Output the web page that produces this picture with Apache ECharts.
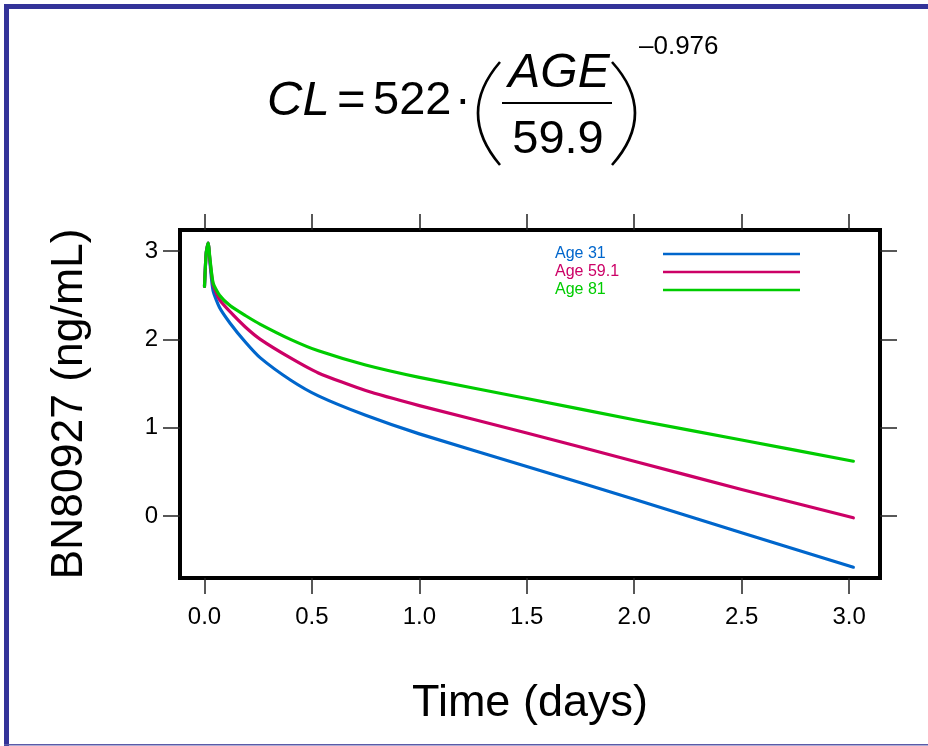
<!DOCTYPE html>
<html>
<head>
<meta charset="utf-8">
<script src="https://cdn.jsdelivr.net/npm/echarts@6/dist/echarts.min.js"></script>
<style>
html,body{margin:0;padding:0;background:#fff;}
#chart{width:928px;height:746px;}
</style>
</head>
<body>
<div id="chart"></div>
<script>
// ---- data ----
var timeDays = [0, 0.008, 0.017, 0.026, 0.04, 0.07, 0.12, 0.19, 0.26, 0.4, 0.53, 0.75, 1.0, 1.5, 2.0, 2.5, 3.02];
var age31   = [2.6, 2.98, 3.09, 2.85, 2.55, 2.36, 2.18, 1.97, 1.79, 1.54, 1.36, 1.14, 0.93, 0.56, 0.19, -0.19, -0.58];
var age59   = [2.6, 2.98, 3.09, 2.88, 2.62, 2.45, 2.31, 2.14, 2.00, 1.79, 1.62, 1.42, 1.25, 0.94, 0.62, 0.30, -0.02];
var age81   = [2.6, 2.98, 3.09, 2.90, 2.64, 2.50, 2.38, 2.27, 2.17, 2.00, 1.87, 1.71, 1.57, 1.33, 1.09, 0.86, 0.62];
var seriesNames = ['Age 31', 'Age 59.1', 'Age 81'];
var seriesColors = ['#0066CC', '#CC0066', '#00CC00'];
var xTicks = [0, 0.5, 1.0, 1.5, 2.0, 2.5, 3.0];
var yTicks = [0, 1, 2, 3];
var xTitle = 'Time (days)';
var yTitle = 'BN80927 (ng/mL)';

function pairs(ys){ return timeDays.map(function(t,i){ return [t, ys[i]]; }); }
var allValues = [age31, age59, age81];

var FONT = 'Liberation Sans, Arial, sans-serif';
var chart = echarts.init(document.getElementById('chart'), null, {renderer:'canvas'});

var series = allValues.map(function(v, i){
  return {
    name: seriesNames[i], type: 'line', data: pairs(v),
    showSymbol: false, symbol: 'none',
    smooth: 0.2,
    color: seriesColors[i],
    lineStyle: {width: 3.2, color: seriesColors[i], cap: 'round', join: 'round'},
    z: 3 + i, animation: false
  };
});

function txt(x, y, s, font, align){
  return {type: 'text', x: x, y: y, silent: true,
    style: {text: s, font: font, fill: '#000', align: align || 'left', verticalAlign: 'top'}};
}
var tickStyle = {color: '#222', width: 1.5};

var option = {
  animation: false,
  backgroundColor: '#ffffff',
  grid: {left: 180, top: 230, right: 48, bottom: 168, show: true, borderWidth: 4, borderColor: '#000', backgroundColor: 'transparent'},
  xAxis: [{
    type: 'value', min: -0.114, max: 3.144, position: 'bottom',
    axisLine: {show: false, onZero: false},
    splitLine: {show: false},
    axisTick: {show: true, inside: false, length: 16, customValues: xTicks, lineStyle: tickStyle},
    axisLabel: {show: true, customValues: xTicks, margin: 27, fontSize: 24, fontFamily: FONT, color: '#000',
      formatter: function(v){ return v.toFixed(1); }},
    name: xTitle, nameLocation: 'middle', nameGap: 103,
    nameTextStyle: {fontSize: 45, fontFamily: FONT, color: '#000'}
  }, {
    type: 'value', min: -0.114, max: 3.144, position: 'top',
    axisLine: {show: false, onZero: false}, splitLine: {show: false},
    axisTick: {show: true, inside: false, length: 16, customValues: xTicks, lineStyle: tickStyle},
    axisLabel: {show: false}
  }],
  yAxis: [{
    type: 'value', min: -0.702, max: 3.238, position: 'left',
    axisLine: {show: false, onZero: false}, splitLine: {show: false},
    axisTick: {show: true, inside: false, length: 17, customValues: yTicks, lineStyle: tickStyle},
    axisLabel: {show: true, customValues: yTicks, margin: 22, fontSize: 24, fontFamily: FONT, color: '#000',
      formatter: function(v){ return String(Math.round(v)); }},
    name: yTitle, nameLocation: 'middle', nameGap: 88, nameRotate: 90,
    nameTextStyle: {fontSize: 44.5, fontFamily: FONT, color: '#000'}
  }, {
    type: 'value', min: -0.702, max: 3.238, position: 'right',
    axisLine: {show: false, onZero: false}, splitLine: {show: false},
    axisTick: {show: true, inside: false, length: 17, customValues: yTicks, lineStyle: tickStyle},
    axisLabel: {show: false}
  }],
  legend: {
    show: true, orient: 'vertical', left: 555, top: 246, padding: 0,
    align: 'right', itemWidth: 137, itemHeight: 2.5, itemGap: 2, icon: 'rect',
    itemStyle: {borderWidth: 0},
    formatter: '{w|{name}}',
    textStyle: {fontSize: 16, fontFamily: FONT, rich: {w: {width: 103, align: 'left', fontSize: 16, fontFamily: FONT}}},
    data: seriesNames.map(function(n, i){ return {name: n, textStyle: {color: seriesColors[i]}}; })
  },
  series: series,
  graphic: [
    // page frame
    {type: 'rect', shape: {x: 4, y: 4, width: 924, height: 5}, style: {fill: '#333399'}, silent: true},
    {type: 'rect', shape: {x: 4, y: 4, width: 5, height: 742}, style: {fill: '#333399'}, silent: true},
    {type: 'rect', shape: {x: 4, y: 744, width: 924, height: 1.5}, style: {fill: '#5a5aa8'}, silent: true},
    // formula
    txt(267, 77, 'CL', 'italic 49px ' + FONT),
    txt(337, 77, '=', '49px ' + FONT),
    txt(373, 78, '522', '47px ' + FONT),
    txt(455, 78, '\u00b7', '47px ' + FONT),
    {type: 'bezierCurve', silent: true, shape: {x1: 500, y1: 62, cpx1: 456, cpy1: 113, x2: 500, y2: 165}, style: {stroke: '#000', lineWidth: 2.6, fill: null}},
    {type: 'bezierCurve', silent: true, shape: {x1: 612, y1: 62, cpx1: 658, cpy1: 113, x2: 612, y2: 165}, style: {stroke: '#000', lineWidth: 2.6, fill: null}},
    txt(559, 50, 'AGE', 'italic 48px ' + FONT, 'center'),
    {type: 'rect', silent: true, shape: {x: 502, y: 102, width: 110, height: 2}, style: {fill: '#000'}},
    txt(558, 117, '59.9', '47px ' + FONT, 'center'),
    txt(639, 34, '\u20130.976', '26px ' + FONT)
  ]
};
chart.setOption(option);
</script>
</body>
</html>
